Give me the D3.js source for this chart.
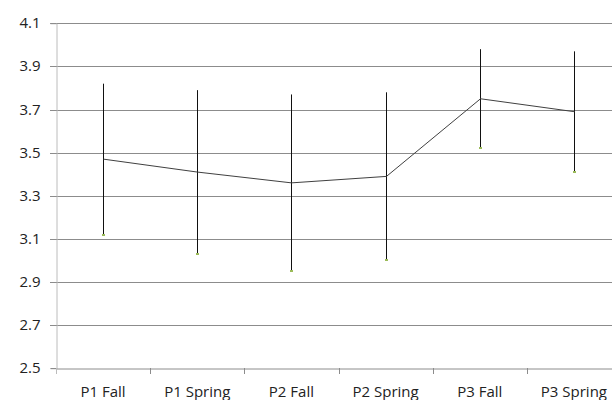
<!DOCTYPE html>
<html><head><meta charset="utf-8">
<script src="https://cdn.jsdelivr.net/npm/d3@7"></script>
<style>body{margin:0;background:#fff;overflow:hidden}</style>
</head><body><svg id="c" width="612" height="400"></svg>
<script>
const categories = ["P1 Fall","P1 Spring","P2 Fall","P2 Spring","P3 Fall","P3 Spring"];
const means = [3.47, 3.41, 3.36, 3.39, 3.75, 3.69];
const highs = [3.82, 3.79, 3.77, 3.78, 3.98, 3.97];
const lows  = [3.12, 3.03, 2.95, 3.00, 3.52, 3.41];
const yTicks = [2.5, 2.7, 2.9, 3.1, 3.3, 3.5, 3.7, 3.9, 4.1];

(function () {
const svg = d3.select("#c");
const mLeft = 56, mTop = 23.3, mBottom = 368.3, mRight = 621;
const x = d3.scaleBand().domain(categories).range([mLeft, mRight]);
const y = d3.scaleLinear().domain([2.5, 4.1]).range([mBottom, mTop]);
const font = "'Open Sans', Lato, sans-serif";

// gridlines
svg.append("g").selectAll("line").data(yTicks.slice(1)).join("line")
  .attr("x1", mLeft - 6).attr("x2", mRight)
  .attr("y1", d => Math.round(y(d)) + 0.5).attr("y2", d => Math.round(y(d)) + 0.5)
  .attr("stroke", "#8c8c8c").attr("stroke-width", 1);

// y axis
const ya = svg.append("g").attr("transform", `translate(${mLeft + 0.5},0)`)
  .call(d3.axisLeft(y).tickValues(yTicks).tickFormat(d3.format(".1f")).tickSize(6).tickPadding(10));
ya.select(".domain").attr("stroke", "#bcbcbc");
ya.selectAll(".tick line").attr("stroke", "#8c8c8c");
ya.selectAll(".tick").attr("transform", d => `translate(0,${Math.round(y(d)) + 0.5})`);
ya.selectAll("text").attr("font-family", font).attr("font-size", 15).attr("fill", "#222");

// x axis
const xa = svg.append("g").attr("transform", `translate(0,${Math.round(mBottom) + 0.5})`)
  .call(d3.axisBottom(x).tickSize(0).tickPadding(18));
xa.select(".domain").attr("stroke", "#8c8c8c");
xa.selectAll("text").attr("font-family", font).attr("font-size", 15).attr("fill", "#222");
// category boundary ticks
svg.append("g").selectAll("line").data(categories.map((c, i) => i)).join("line")
  .attr("x1", i => Math.round(mLeft + i * x.step()) + 0.5)
  .attr("x2", i => Math.round(mLeft + i * x.step()) + 0.5)
  .attr("y1", Math.round(mBottom)).attr("y2", Math.round(mBottom) + 6)
  .attr("stroke", i => i === 0 ? "#bcbcbc" : "#8c8c8c");

const cx = c => Math.round(x(c) + x.bandwidth() / 2) + 0.5;

// error bars
svg.append("g").selectAll("line").data(categories).join("line")
  .attr("x1", cx).attr("x2", cx)
  .attr("y1", (c, i) => y(highs[i])).attr("y2", (c, i) => y(lows[i]))
  .attr("stroke", "#111").attr("stroke-width", 1);

// markers at low end
svg.append("g").selectAll("rect").data(categories).join("rect")
  .attr("x", c => cx(c) - 1.5).attr("y", (c, i) => Math.round(y(lows[i])) - 1)
  .attr("width", 3).attr("height", 2).attr("fill", "#9bbb59");

// mean line
svg.append("path")
  .attr("d", d3.line().x(c => cx(c)).y((c, i) => y(means[i]))(categories))
  .attr("fill", "none").attr("stroke", "#404040").attr("stroke-width", 1);
})();
</script></body></html>
